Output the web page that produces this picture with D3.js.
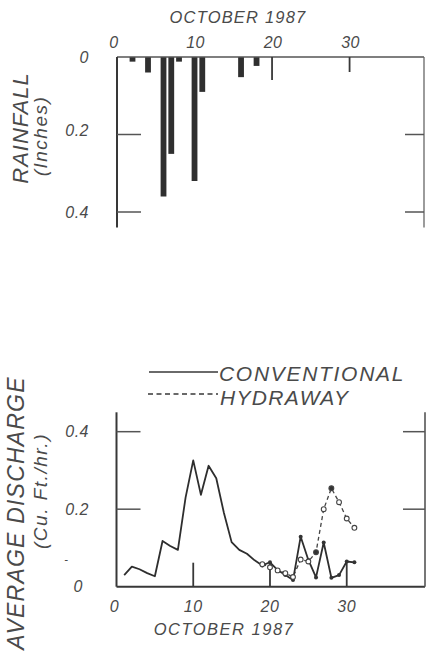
<!DOCTYPE html>
<html>
<head>
<meta charset="utf-8">
<script src="https://cdn.jsdelivr.net/npm/d3@7/dist/d3.min.js"></script>
<style>
  body { margin: 0; background: #fff; }
  svg text { font-family: "Liberation Sans", Arial, sans-serif; font-style: italic; fill: #4a4a4a; }
</style>
</head>
<body>
<svg id="chart" width="427" height="656"></svg>
<script>
// Daily rainfall, October 1987 (inches)
const rainDays   = [2, 4, 6, 7, 8, 10, 11, 16, 18];
const rainInches = [0.012, 0.04, 0.36, 0.25, 0.012, 0.32, 0.09, 0.052, 0.023];

// Average discharge, conventional plot (cu. ft./hr.)
const convDays = [1, 2, 3, 4, 5, 6, 7, 8, 9, 10, 11, 12, 13, 14, 15, 16,
                  17, 18, 19, 20, 21, 22, 23, 24, 25, 26, 27, 28, 29, 30, 31];
const convFlow = [0.03, 0.052, 0.045, 0.035, 0.027, 0.118, 0.105, 0.095, 0.23, 0.326,
                  0.237, 0.312, 0.28, 0.19, 0.115, 0.095, 0.085, 0.068, 0.055, 0.063,
                  0.043, 0.03, 0.017, 0.129, 0.069, 0.024, 0.114, 0.023, 0.03, 0.065, 0.063];

// Average discharge, hydraway plot (cu. ft./hr.)
const hydDays = [19, 20, 21, 22, 23, 24, 25, 26, 27, 28, 29, 30, 31];
const hydFlow = [0.058, 0.05, 0.042, 0.035, 0.025, 0.07, 0.065, 0.089, 0.2, 0.254, 0.218, 0.176, 0.152];
const hydSolidDays = [26, 28];   // days plotted with a solid marker

// Axis ticks and labels
const dayTicks     = [0, 10, 20, 30];
const dayLabels    = ["0", "10", "20", "30"];
const valueTicks   = [0, 0.2, 0.4];
const valueLabels  = ["0", "0.2", "0.4"];
const monthLabel   = "OCTOBER 1987";
const legendLabels = ["CONVENTIONAL", "HYDRAWAY"];

const svg = d3.select("#chart");
const ink = "#383838";

// ---------------- Rainfall panel (bars hang from the top axis) ----------------
const xTop = d3.scaleLinear().domain([0, 39.6]).range([117, 424]);
const yTop = d3.scaleLinear().domain([0, 0.44]).range([57, 227.5]);
const rainPanel = svg.append("g");

rainPanel.append("text").attr("x", 238).attr("y", 23).attr("text-anchor", "middle")
  .style("font-size", "16.5px").style("letter-spacing", "1.2px").text(monthLabel);

rainPanel.selectAll(".xl").data(dayTicks).join("text")
  .attr("x", (d, i) => xTop(d) + (i === 0 ? -3 : 1)).attr("y", 48)
  .attr("text-anchor", "middle").style("font-size", "16px").style("letter-spacing", "0.5px")
  .text((d, i) => dayLabels[i]);

// bars
const barW = 5.8;
rainPanel.selectAll("rect.bar").data(rainDays).join("rect")
  .attr("class", "bar")
  .attr("x", d => xTop(d) - barW / 2)
  .attr("y", yTop(0))
  .attr("width", barW)
  .attr("height", (d, i) => yTop(rainInches[i]) - yTop(0))
  .attr("fill", "#2f2f2f");

// frame
rainPanel.append("line").attr("x1", xTop(0)).attr("x2", xTop(39.6)).attr("y1", yTop(0)).attr("y2", yTop(0))
  .attr("stroke", "#555").attr("stroke-width", 1.6);
rainPanel.append("line").attr("x1", xTop(0)).attr("x2", xTop(0)).attr("y1", yTop(0)).attr("y2", yTop(0.44))
  .attr("stroke", ink).attr("stroke-width", 2);
rainPanel.append("line").attr("x1", xTop(39.6)).attr("x2", xTop(39.6)).attr("y1", yTop(0)).attr("y2", yTop(0.44))
  .attr("stroke", "#666").attr("stroke-width", 1.3);

// inward ticks
rainPanel.selectAll(".xt").data([20, 30]).join("line")
  .attr("x1", d => xTop(d)).attr("x2", d => xTop(d))
  .attr("y1", yTop(0)).attr("y2", (d, i) => yTop(0) + (i === 0 ? 23 : 15))
  .attr("stroke", ink).attr("stroke-width", 1.8);
rainPanel.selectAll(".ytl").data(valueTicks.slice(1)).join("line")
  .attr("x1", xTop(0)).attr("x2", xTop(0) + 24)
  .attr("y1", d => yTop(d)).attr("y2", d => yTop(d))
  .attr("stroke", "#555").attr("stroke-width", 1.5);
rainPanel.selectAll(".ytr").data(valueTicks.slice(1)).join("line")
  .attr("x1", xTop(39.6) - 19).attr("x2", xTop(39.6))
  .attr("y1", d => yTop(d)).attr("y2", d => yTop(d))
  .attr("stroke", "#555").attr("stroke-width", 1.5);

rainPanel.selectAll(".yl").data(valueTicks).join("text")
  .attr("x", 89).attr("y", d => yTop(d)).attr("dy", (d, i) => i === 1 ? "0.1em" : "0.35em")
  .attr("text-anchor", "end").style("font-size", "16px").style("letter-spacing", "0.5px")
  .text((d, i) => valueLabels[i]);

rainPanel.append("text").attr("transform", "translate(28,128) rotate(-90)").attr("text-anchor", "middle")
  .style("font-size", "22px").style("letter-spacing", "1px").text("RAINFALL");
rainPanel.append("text").attr("transform", "translate(47,136) rotate(-90)").attr("text-anchor", "middle")
  .style("font-size", "19px").style("letter-spacing", "1.5px").text("(Inches)");

// ---------------- Discharge panel ----------------
const xBot = d3.scaleLinear().domain([0, 40.2]).range([116.5, 425]);
const yBot = d3.scaleLinear().domain([0, 0.45]).range([586.7, 412.3]);
const flowPanel = svg.append("g");

// legend
flowPanel.append("line").attr("x1", 149).attr("x2", 218).attr("y1", 372).attr("y2", 372)
  .attr("stroke", ink).attr("stroke-width", 1.3);
flowPanel.append("text").attr("x", 219).attr("y", 380.5).style("font-size", "21px").style("letter-spacing", "1.7px")
  .text(legendLabels[0]);
flowPanel.append("line").attr("x1", 148).attr("x2", 218).attr("y1", 394).attr("y2", 394)
  .attr("stroke", ink).attr("stroke-width", 1.3).attr("stroke-dasharray", "5,3.5");
flowPanel.append("text").attr("x", 220).attr("y", 404.5).style("font-size", "21px").style("letter-spacing", "1.3px")
  .text(legendLabels[1]);

// frame
flowPanel.append("line").attr("x1", xBot(0)).attr("x2", xBot(40.2)).attr("y1", yBot(0)).attr("y2", yBot(0))
  .attr("stroke", ink).attr("stroke-width", 2);
flowPanel.append("line").attr("x1", xBot(0)).attr("x2", xBot(0)).attr("y1", yBot(0)).attr("y2", yBot(0.45))
  .attr("stroke", ink).attr("stroke-width", 2);
flowPanel.append("line").attr("x1", xBot(40.2)).attr("x2", xBot(40.2)).attr("y1", yBot(0)).attr("y2", yBot(0.45))
  .attr("stroke", "#555").attr("stroke-width", 1.6);

flowPanel.selectAll(".xt").data(dayTicks.slice(1)).join("line")
  .attr("x1", d => xBot(d)).attr("x2", d => xBot(d))
  .attr("y1", yBot(0)).attr("y2", yBot(0) - 24)
  .attr("stroke", ink).attr("stroke-width", 1.8);
flowPanel.selectAll(".ytl").data(valueTicks.slice(1)).join("line")
  .attr("x1", xBot(0)).attr("x2", xBot(0) + 24)
  .attr("y1", d => yBot(d)).attr("y2", d => yBot(d))
  .attr("stroke", "#555").attr("stroke-width", 1.5);
flowPanel.selectAll(".ytr").data(valueTicks.slice(1)).join("line")
  .attr("x1", xBot(40.2) - 22).attr("x2", xBot(40.2))
  .attr("y1", d => yBot(d)).attr("y2", d => yBot(d))
  .attr("stroke", "#555").attr("stroke-width", 1.5);

flowPanel.selectAll(".xl").data(dayTicks).join("text")
  .attr("x", (d, i) => xBot(d) + (i === 0 ? -2 : 0)).attr("y", 612)
  .attr("text-anchor", "middle").style("font-size", "16px").style("letter-spacing", "0.5px")
  .text((d, i) => dayLabels[i]);
flowPanel.append("text").attr("x", 224).attr("y", 635).attr("text-anchor", "middle")
  .style("font-size", "16.5px").style("letter-spacing", "1.5px").text(monthLabel);

flowPanel.selectAll(".yl").data(valueTicks).join("text")
  .attr("x", (d, i) => i === 0 ? 83 : 89).attr("y", d => yBot(d)).attr("dy", "0.35em")
  .attr("text-anchor", "end").style("font-size", "16px").style("letter-spacing", "0.5px")
  .text((d, i) => valueLabels[i]);
flowPanel.append("text").attr("x", 66).attr("y", yBot(0.071)).attr("dy", "0.35em").attr("text-anchor", "middle")
  .style("font-size", "11px").text("-");

flowPanel.append("text").attr("transform", "translate(24,513) rotate(-90)").attr("text-anchor", "middle")
  .style("font-size", "23px").style("letter-spacing", "1.2px").text("AVERAGE  DISCHARGE");
flowPanel.append("text").attr("transform", "translate(47,491) rotate(-90)").attr("text-anchor", "middle")
  .style("font-size", "19px").style("letter-spacing", "1.5px").text("(Cu.  Ft./hr.)");

// series
const line = d3.line().x(d => xBot(d[0])).y(d => yBot(d[1]));
const convPts = convDays.map((d, i) => [d, convFlow[i]]);
const hydPts  = hydDays.map((d, i) => [d, hydFlow[i]]);

flowPanel.append("path").attr("d", line(hydPts)).attr("fill", "none")
  .attr("stroke", "#444").attr("stroke-width", 1.3).attr("stroke-dasharray", "4,3");
flowPanel.append("path").attr("d", line(convPts)).attr("fill", "none")
  .attr("stroke", "#2e2e2e").attr("stroke-width", 1.8).attr("stroke-linejoin", "round");

flowPanel.selectAll("circle.conv").data(convPts.filter(p => p[0] >= 19)).join("circle")
  .attr("class", "conv")
  .attr("cx", p => xBot(p[0])).attr("cy", p => yBot(p[1])).attr("r", 2)
  .attr("fill", "#333");
flowPanel.selectAll("circle.hyd").data(hydPts).join("circle")
  .attr("class", "hyd")
  .attr("cx", p => xBot(p[0])).attr("cy", p => yBot(p[1])).attr("r", 2.4)
  .attr("fill", p => hydSolidDays.includes(p[0]) ? "#333" : "#fff")
  .attr("stroke", "#444").attr("stroke-width", 1.1);
</script>
</body>
</html>
